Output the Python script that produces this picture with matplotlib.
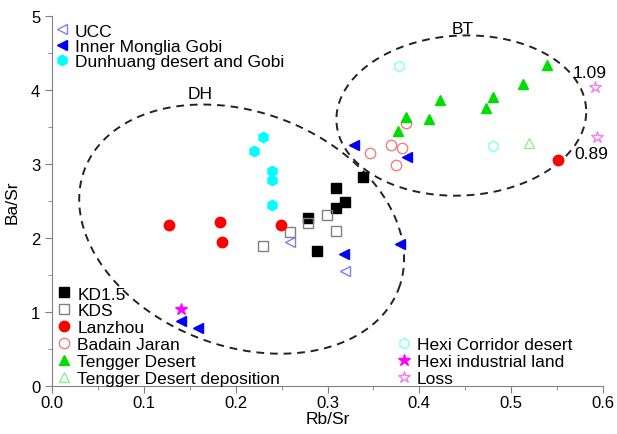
import numpy as np
import matplotlib.pyplot as plt

plt.rcParams['font.family'] = ['Liberation Sans', 'DejaVu Sans']

# values
ucc_x = [0.259, 0.319]
ucc_y = [1.94, 1.56]
imgobi_x = [0.141, 0.159, 0.318, 0.379, 0.329, 0.387]
imgobi_y = [0.88, 0.78, 1.79, 1.92, 3.26, 3.10]
dunhuang_x = [0.230, 0.220, 0.240, 0.240, 0.240]
dunhuang_y = [3.37, 3.17, 2.91, 2.79, 2.44]
kd15_x = [0.339, 0.309, 0.319, 0.309, 0.279, 0.289]
kd15_y = [2.83, 2.68, 2.49, 2.41, 2.27, 1.83]
kds_x = [0.299, 0.279, 0.309, 0.259, 0.230]
kds_y = [2.31, 2.20, 2.09, 2.08, 1.89]
lanzhou_x = [0.127, 0.183, 0.185, 0.249, 0.551]
lanzhou_y = [2.18, 2.21, 1.94, 2.18, 3.05]
badain_x = [0.346, 0.369, 0.381, 0.375, 0.386]
badain_y = [3.15, 3.26, 3.21, 2.99, 3.55]
tengger_x = [0.539, 0.513, 0.480, 0.473, 0.422, 0.411, 0.386, 0.377]
tengger_y = [4.34, 4.08, 3.91, 3.76, 3.86, 3.61, 3.64, 3.45]
tengdep_x = [0.519]
tengdep_y = [3.28]
hexidesert_x = [0.378, 0.480]
hexidesert_y = [4.32, 3.24]
hexiind_x = [0.140]
hexiind_y = [1.04]
loss_x = [0.591, 0.593]
loss_y = [4.04, 3.37]
loss_labels = ['1.09', '0.89']

# groups: label, x, y, marker, face, edge
groups = [
    ('UCC', ucc_x, ucc_y, '<', 'none', '#7f7fef'),
    ('Inner Monglia Gobi', imgobi_x, imgobi_y, '<', '#0000ff', '#0000ff'),
    ('Dunhuang desert and Gobi', dunhuang_x, dunhuang_y, 'h', '#00ffff', '#00ffff'),
    ('KD1.5', kd15_x, kd15_y, 's', 'black', 'black'),
    ('KDS', kds_x, kds_y, 's', 'none', '#808080'),
    ('Lanzhou', lanzhou_x, lanzhou_y, 'o', '#ff0000', '#ff0000'),
    ('Badain Jaran', badain_x, badain_y, 'o', 'none', '#f08080'),
    ('Tengger Desert', tengger_x, tengger_y, '^', '#00dd00', '#00dd00'),
    ('Tengger Desert deposition', tengdep_x, tengdep_y, '^', 'none', '#90ee90'),
    ('Hexi Corridor desert', hexidesert_x, hexidesert_y, 'h', 'none', '#80ffff'),
    ('Hexi industrial land', hexiind_x, hexiind_y, '*', '#ff00ff', '#ff00ff'),
    ('Loss', loss_x, loss_y, '*', 'none', '#ee82ee'),
]

fig = plt.figure(figsize=(6.17, 4.35), dpi=100)
ax = fig.add_axes([52 / 617, 48 / 435, 551 / 617, 370 / 435])

handles = {}
for label, xs, ys, m, fc, ec in groups:
    ms = 9 if m == '*' else 7.5
    h, = ax.plot(xs, ys, linestyle='none', marker=m, markersize=ms,
                 markerfacecolor=fc, markeredgecolor=ec, markeredgewidth=1.0,
                 label=label, zorder=3)
    handles[label] = h

for x, y, s in zip(loss_x, loss_y, loss_labels):
    ax.text(x - 0.024, y + 0.19 if s == '1.09' else y - 0.23, s,
            fontsize=12.5, ha='left', va='center')

# dashed ellipses (in pixel-like units so the tilt looks right)
sx, sy = 551 / 0.6, 370 / 5.0
def ellipse(cx, cy, a, b, ang):
    t = np.linspace(0, 2 * np.pi, 300)
    th = np.deg2rad(ang)
    px = a * np.cos(t) * np.cos(th) - b * np.sin(t) * np.sin(th)
    py = a * np.cos(t) * np.sin(th) + b * np.sin(t) * np.cos(th)
    ax.plot(cx + px / sx, cy + py / sy, color='#222222', lw=1.4,
            dashes=(4, 3), zorder=2)

ellipse(0.2065, 2.12, 168, 117, -20.8)
ellipse(0.4457, 3.655, 125, 80, 3)
ax.text(0.161, 3.95, 'DH', fontsize=12.5, ha='center', va='center')
ax.text(0.447, 4.83, 'BT', fontsize=12.5, ha='center', va='center')

ax.set_xlim(0, 0.6)
ax.set_ylim(0, 5)
ax.set_xticks(np.arange(0, 0.61, 0.1))
ax.set_xticklabels(['0.0', '0.1', '0.2', '0.3', '0.4', '0.5', '0.6'])
ax.set_xticks(np.arange(0.05, 0.6, 0.1), minor=True)
ax.set_yticks(range(6))
ax.set_yticks(np.arange(0.5, 5, 1), minor=True)
for s in ['top', 'right']:
    ax.spines[s].set_visible(False)
for s in ['left', 'bottom']:
    ax.spines[s].set_color('#808080')
ax.tick_params(which='both', direction='out', color='#808080', labelsize=12)
ax.tick_params(which='major', length=5)
ax.tick_params(which='minor', length=3)
ax.tick_params(axis='x', pad=1.5)
ax.set_xlabel('Rb/Sr', fontsize=12.5, labelpad=1)
ax.set_ylabel('Ba/Sr', fontsize=12.5, labelpad=8)

common = dict(frameon=False, fontsize=12.5, handlelength=0.8, handletextpad=0.35,
              borderpad=0, borderaxespad=0)
leg1 = ax.legend(handles=[handles[k] for k in ['UCC', 'Inner Monglia Gobi', 'Dunhuang desert and Gobi']],
                 loc='upper left', bbox_to_anchor=(0.005, 0.98), labelspacing=0.0, **common)
ax.add_artist(leg1)
leg2 = ax.legend(handles=[handles[k] for k in ['KD1.5', 'KDS', 'Lanzhou', 'Badain Jaran',
                                                'Tengger Desert', 'Tengger Desert deposition']],
                 loc='lower left', bbox_to_anchor=(0.01, 0.0), labelspacing=0.1, **common)
ax.add_artist(leg2)
ax.legend(handles=[handles[k] for k in ['Hexi Corridor desert', 'Hexi industrial land', 'Loss']],
          loc='lower left', bbox_to_anchor=(0.626, 0.0), labelspacing=0.1, **common)

fig.savefig('out.png', dpi=100)
